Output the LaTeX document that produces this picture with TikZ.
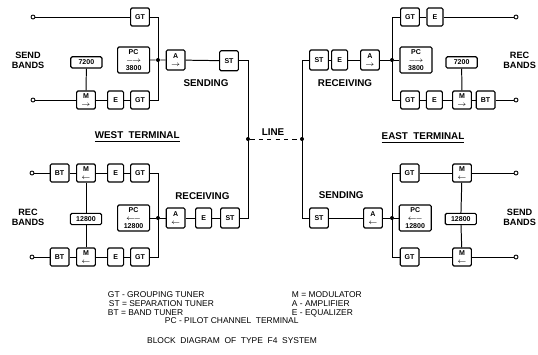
\documentclass[tikz,border=0pt]{standalone}
\usepackage{fontspec}
\setmainfont{Liberation Sans}
\usepackage{tikz}
\usetikzlibrary{positioning, calc}

\begin{document}
\begin{tikzpicture}[
  blk/.style={rectangle, draw, rounded corners=1pt, line width=0.8pt,
              minimum width=0.47cm, minimum height=0.45cm, inner sep=0pt,
              align=center, font=\fontsize{5}{5.2}\selectfont\bfseries},
  ebox/.style={blk, minimum width=0.4cm},
  pcb/.style={blk, minimum width=0.8cm, minimum height=0.65cm,
              font=\fontsize{5}{5.6}\selectfont\bfseries},
  osc/.style={blk, minimum width=0.78cm, minimum height=0.28cm},
  term/.style={circle, draw, line width=0.6pt, inner sep=0pt, minimum size=0.1cm},
  jn/.style={circle, fill, inner sep=0pt, minimum size=0.1cm},
  lbl/.style={align=center, font=\fontsize{7}{7.5}\selectfont\bfseries},
  bands/.style={align=center, font=\fontsize{6.5}{7}\selectfont\bfseries},
  leg/.style={anchor=west, font=\fontsize{6}{6}\selectfont},
  wire/.style={line width=0.7pt}
]
\useasboundingbox (0,0) rectangle (13.45,8.85);

%% ---- West terminal: sending ----
\node[term] (wsIn1) at (0.825, 8.425) {};
\node[blk]  (wsGT1) at (3.5, 8.425) {GT};
\node[pcb]  (wsPC)  at (3.34, 7.35) {PC\\$\longrightarrow$\\3800};
\node[jn]   (wsJ)   at (3.95, 7.35) {};
\node[blk, minimum height=0.5cm] (wsA)  at (4.39, 7.35) {A\\$\rightarrow$};
\node[blk, minimum height=0.5cm] (wsST) at (5.725, 7.33) {ST};
\node[osc]  (ws7200) at (2.16, 7.29) {7200};
\node[term] (wsIn2) at (0.825, 6.35) {};
\node[blk]  (wsM)   at (2.15, 6.35) {M\\$\rightarrow$};
\node[ebox] (wsE)   at (2.89, 6.35) {E};
\node[blk]  (wsGT2) at (3.5, 6.35) {GT};

\node[bands] (wsBands) at (0.7, 7.35) {SEND\\BANDS};
\node[lbl] (wsLbl)   at (5.15, 6.775) {SENDING};
\node[lbl] (wTitle)  at (3.43, 5.425) {\underline{WEST\ \ TERMINAL}};

%% ---- West terminal: receiving ----
\node[term] (wrIn1) at (0.8, 4.525) {};
\node[blk]  (wrBT1) at (1.49, 4.525) {BT};
\node[blk]  (wrM1)  at (2.15, 4.525) {M\\$\leftarrow$};
\node[ebox] (wrE1)  at (2.89, 4.525) {E};
\node[blk]  (wrGT1) at (3.5, 4.525) {GT};
\node[osc]  (wr12800) at (2.15, 3.375) {12800};
\node[pcb]  (wrPC)  at (3.34, 3.4) {PC\\$\longleftarrow$\\12800};
\node[jn]   (wrJ)   at (3.95, 3.4) {};
\node[blk, minimum height=0.5cm] (wrA)  at (4.39, 3.4) {A\\$\leftarrow$};
\node[ebox, minimum height=0.5cm] (wrE) at (5.09, 3.4) {E};
\node[blk, minimum height=0.5cm] (wrST) at (5.75, 3.4) {ST};
\node[term] (wrIn2) at (0.8, 2.425) {};
\node[blk]  (wrBT2) at (1.49, 2.425) {BT};
\node[blk]  (wrM2)  at (2.15, 2.425) {M\\$\leftarrow$};
\node[ebox] (wrE2)  at (2.89, 2.425) {E};
\node[blk]  (wrGT2) at (3.5, 2.425) {GT};

\node[bands] (wrBands) at (0.7, 3.425) {REC\\BANDS};
\node[lbl] (wrLbl)   at (5.06, 3.95) {RECEIVING};

%% ---- Line ----
\node[jn]  (lnW)   at (6.2, 5.375) {};
\node[jn]  (lnE)   at (7.55, 5.375) {};
\node[lbl] (lnLbl) at (6.825, 5.55) {LINE};

%% ---- East terminal: receiving ----
\node[blk, minimum height=0.5cm]  (erST) at (7.975, 7.35) {ST};
\node[ebox, minimum height=0.5cm] (erE)  at (8.49, 7.35) {E};
\node[blk, minimum height=0.5cm]  (erA)  at (9.25, 7.35) {A\\$\rightarrow$};
\node[jn]   (erJ)   at (9.8, 7.35) {};
\node[pcb]  (erPC)  at (10.4, 7.35) {PC\\$\longrightarrow$\\3800};
\node[blk]  (erGT1) at (10.25, 8.425) {GT};
\node[ebox] (erE1)  at (10.875, 8.425) {E};
\node[term] (erOut1) at (12.9, 8.425) {};
\node[osc]  (er7200) at (11.54, 7.29) {7200};
\node[blk]  (erGT2) at (10.25, 6.35) {GT};
\node[ebox] (erE2)  at (10.86, 6.35) {E};
\node[blk]  (erM)   at (11.55, 6.35) {M\\$\rightarrow$};
\node[blk]  (erBT)  at (12.14, 6.35) {BT};
\node[term] (erOut2) at (12.9, 6.35) {};

\node[bands] (erBands) at (12.99, 7.35) {REC\\BANDS};
\node[lbl] (erLbl)   at (8.625, 6.775) {RECEIVING};
\node[lbl] (eTitle)  at (10.575, 5.4) {\underline{EAST\ \ TERMINAL}};

%% ---- East terminal: sending ----
\node[blk, minimum height=0.5cm] (esST) at (7.975, 3.4) {ST};
\node[blk, minimum height=0.5cm] (esA)  at (9.325, 3.4) {A\\$\leftarrow$};
\node[jn]   (esJ)   at (9.8, 3.4) {};
\node[pcb]  (esPC)  at (10.38, 3.4) {PC\\$\longleftarrow$\\12800};
\node[blk]  (esGT1) at (10.24, 4.525) {GT};
\node[blk]  (esM1)  at (11.55, 4.525) {M\\$\leftarrow$};
\node[term] (esOut1) at (12.9, 4.525) {};
\node[osc]  (es12800) at (11.52, 3.375) {12800};
\node[blk]  (esGT2) at (10.24, 2.425) {GT};
\node[blk]  (esM2)  at (11.55, 2.425) {M\\$\leftarrow$};
\node[term] (esOut2) at (12.9, 2.425) {};

\node[bands] (esBands) at (12.99, 3.425) {SEND\\BANDS};
\node[lbl] (esLbl)   at (8.53, 3.975) {SENDING};

%% ---- Wires: west sending ----
\draw[wire] (wsIn1) -- (wsGT1);
\draw[wire] (wsGT1.east) -| (wsJ.center);
\draw[wire] (wsGT2.east) -| (wsJ.center);
\draw[wire] (wsPC) -- (wsJ) -- (wsA) -- (wsST);
\draw[wire] (wsIn2) -- (wsM) -- (wsE) -- (wsGT2);
\draw[wire] (ws7200) -- (wsM);
\draw[wire] (wsST.east) -| (lnW.center);

%% ---- Wires: west receiving ----
\draw[wire] (wrIn1) -- (wrBT1) -- (wrM1) -- (wrE1) -- (wrGT1);
\draw[wire] (wrIn2) -- (wrBT2) -- (wrM2) -- (wrE2) -- (wrGT2);
\draw[wire] (wrGT1.east) -| (wrJ.center);
\draw[wire] (wrGT2.east) -| (wrJ.center);
\draw[wire] (wrPC) -- (wrJ) -- (wrA) -- (wrE) -- (wrST);
\draw[wire] (wrM1) -- (wr12800) -- (wrM2);
\draw[wire] (wrST.east) -| (lnW.center);

%% ---- Line ----
\draw[wire, dashed] (lnW) -- (lnE);

%% ---- Wires: east receiving ----
\draw[wire] (erST.west) -| (lnE.center);
\draw[wire] (erST) -- (erE) -- (erA) -- (erJ) -- (erPC);
\draw[wire] (erJ.center) |- (erGT1.west);
\draw[wire] (erJ.center) |- (erGT2.west);
\draw[wire] (erGT1) -- (erE1) -- (erOut1);
\draw[wire] (erGT2) -- (erE2) -- (erM) -- (erBT) -- (erOut2);
\draw[wire] (er7200) -- (erM);

%% ---- Wires: east sending ----
\draw[wire] (esST.west) -| (lnE.center);
\draw[wire] (esST) -- (esA) -- (esJ) -- (esPC);
\draw[wire] (esJ.center) |- (esGT1.west);
\draw[wire] (esJ.center) |- (esGT2.west);
\draw[wire] (esGT1) -- (esM1) -- (esOut1);
\draw[wire] (esGT2) -- (esM2) -- (esOut2);
\draw[wire] (esM1) -- (es12800) -- (esM2);

%% ---- Legend ----
\node[leg] (lgGT) at (2.575, 1.475) {GT - GROUPING TUNER};
\node[leg] (lgST) at (2.6, 1.25)    {ST = SEPARATION TUNER};
\node[leg] (lgBT) at (2.575, 1.025) {BT = BAND TUNER};
\node[leg] (lgPC) at (4.0, 0.825)   {PC - PILOT CHANNEL\ \ TERMINAL};
\node[leg] (lgM)  at (7.175, 1.475) {M = MODULATOR};
\node[leg] (lgA)  at (7.175, 1.25)  {A - AMPLIFIER};
\node[leg] (lgE)  at (7.175, 1.025) {E - EQUALIZER};
\node[leg, anchor=center] (caption) at (5.8, 0.325)
  {BLOCK\ \ DIAGRAM\ \ OF\ \ TYPE\ \ F4\ \ SYSTEM};

\end{tikzpicture}
\end{document}
